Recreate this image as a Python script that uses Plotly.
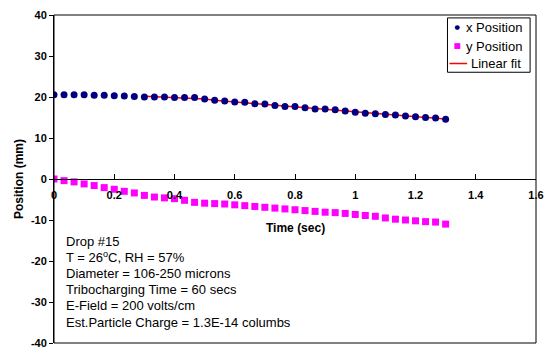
import plotly.graph_objects as go

# ---- data ----
time_s = [k / 30 for k in range(40)]
x_pos = [20.55, 20.55, 20.55, 20.55, 20.4, 20.4, 20.3, 20.25, 20.1, 20.0,
         20.0, 20.0, 19.85, 19.85, 19.85, 19.5, 19.2, 19.0, 18.8, 18.7,
         18.35, 18.3, 17.9, 17.7, 17.7, 17.4, 17.1, 17.1, 16.9, 16.6,
         16.3, 16.05, 15.9, 15.75, 15.6, 15.35, 15.2, 15.0, 14.9, 14.55]
y_pos = [0.0, -0.4, -0.7, -1.2, -1.6, -2.1, -2.5, -3.0, -3.4, -4.0,
         -4.4, -4.6, -4.8, -5.2, -5.7, -5.9, -6.0, -6.1, -6.3, -6.5,
         -6.7, -6.9, -7.1, -7.3, -7.5, -7.7, -7.9, -8.1, -8.2, -8.4,
         -8.65, -8.9, -9.1, -9.5, -9.8, -10.0, -10.2, -10.4, -10.5, -11.0]
fit_t = time_s[9:]
fit_y = [20.2, 20.1, 20.0, 19.85, 19.8, 19.7, 19.5, 19.2, 19.0, 18.8,
         18.6, 18.3, 18.2, 17.9, 17.75, 17.6, 17.4, 17.15, 17.0, 16.8,
         16.55, 16.3, 16.05, 15.9, 15.7, 15.55, 15.35, 15.15, 15.0, 14.85, 14.55]

x_ticks = [0, 0.2, 0.4, 0.6, 0.8, 1.0, 1.2, 1.4, 1.6]
x_tick_labels = ["0", "0.2", "0.4", "0.6", "0.8", "1", "1.2", "1.4", "1.6"]
y_ticks = [-40, -30, -20, -10, 0, 10, 20, 30, 40]
y_tick_labels = ["-40", "-30", "-20", "-10", "0", "10", "20", "30", "40"]

legend_names = ["x Position", "y Position", "Linear fit"]

info_lines = [
    "Drop #15",
    "T = 26<sup>o</sup>C, RH = 57%",
    "Diameter = 106-250 microns",
    "Tribocharging Time = 60 secs",
    "E-Field = 200 volts/cm",
    "Est.Particle Charge = 1.3E-14 columbs",
]

FONT = "Arial, Liberation Sans, sans-serif"
NAVY, MAGENTA, RED = "#000080", "#FF00FF", "#FF0000"

fig = go.Figure()
fig.add_trace(go.Scatter(x=fit_t, y=fit_y, mode="lines", name=legend_names[2],
                         line=dict(color=RED, width=1.5)))
fig.add_trace(go.Scatter(x=time_s, y=x_pos, mode="markers", name=legend_names[0],
                         marker=dict(symbol="circle", size=7, color=NAVY)))
fig.add_trace(go.Scatter(x=time_s, y=y_pos, mode="markers", name=legend_names[1],
                         marker=dict(symbol="square", size=7, color=MAGENTA)))

W, H = 553, 358
L, R, T, B = 54, 9, 10, 10
pw = W - L - R
ph = H - T - B


def px(xp):
    return (xp - L) / pw


def py(yp):
    return 1 - (yp - T) / ph


fig.update_layout(
    width=W, height=H,
    margin=dict(l=L, r=R, t=T, b=B),
    paper_bgcolor="white", plot_bgcolor="white",
    font=dict(family=FONT, color="black"),
    showlegend=False,
    xaxis=dict(range=[0, 1.6], tickvals=x_ticks, ticktext=x_tick_labels,
               anchor="free", position=0.5, showline=True, linecolor="black",
               linewidth=1, ticks="inside", ticklen=5, tickcolor="black",
               showgrid=False, zeroline=False,
               tickfont=dict(size=11, family=FONT, weight="bold"),
               ticklabelstandoff=6),
    yaxis=dict(range=[-40, 40], tickvals=y_ticks, ticktext=y_tick_labels,
               showline=True,
               linecolor="black", linewidth=1, ticks="outside", ticklen=4,
               tickcolor="black", showgrid=False, zeroline=False,
               tickfont=dict(size=11, family=FONT, weight="bold"),
               title=dict(text="Position (mm)", standoff=4,
                          font=dict(size=12, family=FONT, weight="bold"))),
)

# plot-area frame
fig.add_shape(type="rect", xref="x domain", yref="y domain", x0=0, x1=1, y0=0, y1=1,
              line=dict(color="black", width=1), fillcolor="rgba(0,0,0,0)", layer="above")

# ---- legend box (drawn by hand to match the original's compact layout) ----
fig.add_shape(type="rect", xref="paper", yref="paper", x0=px(454), x1=px(538),
              y0=py(69), y1=py(13), line=dict(color="black", width=1),
              fillcolor="white", layer="above")
row_y = [23, 42, 60]
fig.add_shape(type="circle", xref="paper", yref="paper",
              x0=px(461.5), x1=px(466.5), y0=py(25.5), y1=py(20.5),
              line=dict(width=0), fillcolor=NAVY, layer="above")
fig.add_shape(type="rect", xref="paper", yref="paper",
              x0=px(461), x1=px(467), y0=py(45), y1=py(39),
              line=dict(width=0), fillcolor=MAGENTA, layer="above")
fig.add_shape(type="line", xref="paper", yref="paper",
              x0=px(456), x1=px(474), y0=py(60), y1=py(60),
              line=dict(color=RED, width=1.5), layer="above")
for name, ry, tx in zip(legend_names, row_y, [471, 471, 476]):
    fig.add_annotation(text=name, xref="paper", yref="paper", x=px(tx), y=py(ry),
                       xanchor="left", yanchor="middle", showarrow=False,
                       font=dict(size=13, family=FONT))

fig.add_annotation(text="Time (sec)", xref="paper", yref="paper", x=0.5,
                   y=py(230), xanchor="center", yanchor="middle",
                   showarrow=False, font=dict(size=12, family=FONT, weight="bold"))

for i, line in enumerate(info_lines):
    ypix = 243 + i * 16.7
    fig.add_annotation(text=line, xref="paper", yref="paper", x=px(64),
                       y=py(ypix), xanchor="left", yanchor="middle",
                       showarrow=False, font=dict(size=13, family=FONT))

fig.write_html("out.html")
